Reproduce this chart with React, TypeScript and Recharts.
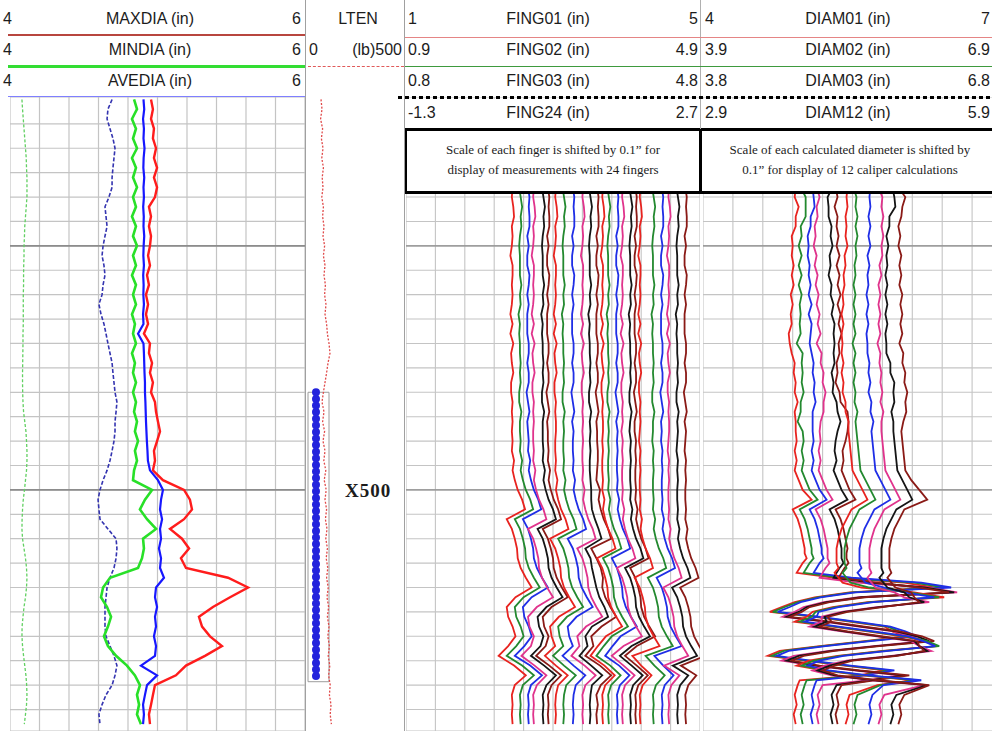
import React from "react";
import { CartesianGrid, Line, LineChart, ReferenceArea, ReferenceLine, XAxis, YAxis } from "recharts";

// depth (ft) shared by every track
const DEPTH_TOP = 419.5;
const DEPTH_BOTTOM = 549.4;
const DEPTH_TICKS = [425, 430, 435, 440, 445, 450, 455, 460, 465, 470, 475, 480, 485, 490, 495, 500, 505, 510, 515, 520, 525, 530, 535, 540, 545];
const MAJOR_DEPTHS = [450, 500];

// track 1: caliper summary, 4..6 in
const T1_TICKS = [4, 4.2, 4.4, 4.6, 4.8, 5, 5.2, 5.4, 5.6, 5.8, 6];
const T1_DEPTH = [420, 422, 424, 426, 428, 430, 432, 434, 436, 438, 440, 442, 444, 446, 448, 450, 452, 454, 456, 458, 460, 462, 464, 466, 468, 470, 472, 474, 476, 478, 480, 482, 484, 486, 488, 490, 492, 494, 496, 498, 500, 502, 504, 506, 508, 510, 512, 514, 516, 518, 520, 522, 524, 526, 528, 530, 532, 534, 536, 538, 540, 542, 544, 546, 548];
const MAXDIA = [4.956, 4.969, 4.956, 4.976, 4.969, 4.99, 4.976, 4.997, 4.976, 4.997, 4.983, 4.942, 4.956, 4.942, 4.956, 4.949, 4.936, 4.949, 4.929, 4.942, 4.922, 4.936, 4.922, 4.936, 4.908, 4.949, 4.942, 4.963, 4.949, 4.969, 4.956, 4.983, 4.99, 5.003, 5.017, 4.997, 4.976, 4.983, 4.969, 5.037, 5.18, 5.22, 5.234, 5.18, 5.085, 5.166, 5.214, 5.159, 5.193, 5.478, 5.614, 5.492, 5.376, 5.281, 5.302, 5.356, 5.437, 5.322, 5.193, 5.125, 4.983, 4.969, 4.956, 4.942, 4.949];
const MINDIA = [4.841, 4.861, 4.827, 4.854, 4.834, 4.861, 4.827, 4.854, 4.834, 4.861, 4.834, 4.854, 4.827, 4.854, 4.834, 4.861, 4.834, 4.854, 4.827, 4.854, 4.834, 4.854, 4.827, 4.847, 4.834, 4.854, 4.827, 4.847, 4.834, 4.854, 4.834, 4.854, 4.841, 4.861, 4.847, 4.868, 4.847, 4.861, 4.841, 4.834, 4.963, 4.915, 4.881, 4.929, 4.99, 4.902, 4.908, 4.895, 4.868, 4.678, 4.631, 4.617, 4.658, 4.685, 4.664, 4.637, 4.664, 4.719, 4.793, 4.847, 4.881, 4.861, 4.875, 4.861, 4.888];
const AVEDIA = [4.905, 4.91, 4.902, 4.908, 4.905, 4.912, 4.906, 4.904, 4.91, 4.905, 4.908, 4.903, 4.907, 4.905, 4.91, 4.906, 4.904, 4.908, 4.903, 4.906, 4.904, 4.908, 4.902, 4.905, 4.868, 4.905, 4.908, 4.91, 4.912, 4.915, 4.915, 4.918, 4.92, 4.922, 4.925, 4.928, 4.932, 4.935, 4.949, 5.003, 5.037, 5.024, 5.017, 5.031, 5.017, 5.024, 5.01, 5.024, 5.017, 5.044, 4.99, 4.983, 4.997, 4.983, 4.99, 4.976, 4.99, 4.983, 4.888, 4.997, 4.929, 4.915, 4.902, 4.908, 4.902];
const AUX_BLUE = [4.692, 4.664, 4.658, 4.678, 4.698, 4.712, 4.705, 4.698, 4.692, 4.692, 4.671, 4.644, 4.651, 4.658, 4.644, 4.631, 4.624, 4.637, 4.644, 4.631, 4.624, 4.603, 4.617, 4.637, 4.651, 4.664, 4.678, 4.692, 4.698, 4.705, 4.712, 4.725, 4.719, 4.712, 4.712, 4.705, 4.692, 4.678, 4.658, 4.631, 4.61, 4.597, 4.603, 4.61, 4.664, 4.719, 4.725, 4.719, 4.705, 4.678, 4.658, 4.651, 4.644, 4.644, 4.644, 4.651, 4.678, 4.705, 4.725, 4.712, 4.692, 4.651, 4.624, 4.603, 4.61];
const AUX_GREEN = [4.081, 4.085, 4.09, 4.095, 4.1, 4.105, 4.11, 4.112, 4.115, 4.115, 4.115, 4.11, 4.105, 4.1, 4.098, 4.095, 4.095, 4.093, 4.092, 4.092, 4.09, 4.09, 4.09, 4.09, 4.088, 4.088, 4.087, 4.086, 4.085, 4.085, 4.086, 4.088, 4.092, 4.1, 4.108, 4.112, 4.115, 4.115, 4.112, 4.105, 4.098, 4.09, 4.085, 4.082, 4.081, 4.085, 4.095, 4.105, 4.112, 4.115, 4.112, 4.105, 4.095, 4.088, 4.082, 4.081, 4.085, 4.092, 4.1, 4.108, 4.113, 4.115, 4.112, 4.105, 4.097];

// track 2: line tension (lb), 0..500
const LTEN = [80, 85, 78, 88, 82, 90, 84, 92, 86, 90, 84, 92, 88, 95, 90, 98, 92, 100, 95, 102, 98, 105, 100, 108, 112, 120, 125, 115, 108, 100, 92, 85, 95, 88, 98, 90, 100, 94, 104, 96, 106, 100, 108, 102, 110, 104, 112, 106, 114, 108, 116, 110, 118, 112, 120, 114, 122, 116, 124, 118, 126, 122, 130, 126, 132];
const MARKER_DEPTHS = [480, 539.3];
const MARKER_LB = 55;

// track 3: finger radii, hundredths of an inch
const F_DEPTH = [438, 440, 442, 444, 446, 448, 450, 452, 454, 456, 458, 460, 462, 464, 466, 468, 470, 472, 474, 476, 478, 480, 482, 484, 486, 488, 490, 492, 494, 496, 498, 500, 502, 504, 506, 508, 510, 512, 514, 516, 518, 520, 522, 524, 526, 528, 530, 532, 534, 536, 538, 540, 542, 544, 546, 548];

const FING01 = [245, 244, 246, 247, 244, 245, 244, 242, 245, 245, 244, 245, 244, 242, 245, 242, 246, 243, 244, 246, 243, 243, 245, 244, 245, 244, 245, 244, 247, 245, 248, 252, 258, 262, 237, 244, 248, 251, 252, 256, 263, 271, 249, 237, 239, 245, 249, 239, 226, 247, 263, 248, 244, 245, 244, 245];
const FING02 = [244, 246, 248, 246, 247, 245, 244, 245, 245, 245, 247, 245, 246, 243, 245, 244, 245, 245, 246, 245, 246, 244, 244, 247, 245, 245, 246, 245, 248, 246, 249, 253, 259, 263, 238, 245, 249, 252, 253, 257, 264, 272, 250, 238, 240, 246, 250, 240, 227, 248, 264, 249, 245, 246, 245, 246];
const FING03 = [246, 248, 247, 248, 248, 245, 247, 245, 245, 248, 247, 245, 247, 245, 245, 245, 247, 247, 245, 247, 247, 244, 246, 248, 245, 246, 247, 246, 249, 247, 250, 254, 260, 264, 239, 246, 250, 253, 254, 258, 265, 273, 251, 239, 241, 247, 251, 241, 228, 249, 265, 250, 246, 247, 246, 247];
const FING04 = [244, 243, 245, 246, 243, 244, 243, 241, 244, 244, 243, 244, 243, 241, 244, 241, 245, 242, 243, 245, 242, 242, 244, 243, 244, 243, 243, 244, 243, 246, 244, 247, 251, 257, 261, 236, 243, 247, 250, 251, 255, 262, 270, 248, 236, 238, 244, 240, 227, 245, 261, 248, 243, 244, 243, 244];
const FING05 = [245, 247, 249, 247, 248, 246, 245, 246, 246, 246, 248, 246, 247, 244, 246, 245, 246, 246, 247, 246, 247, 245, 245, 248, 246, 246, 246, 247, 246, 249, 247, 250, 254, 260, 264, 239, 246, 250, 253, 254, 258, 265, 273, 251, 239, 241, 247, 243, 230, 248, 264, 251, 246, 247, 246, 247];
const FING06 = [243, 245, 244, 245, 245, 242, 244, 242, 242, 245, 244, 242, 244, 242, 242, 242, 244, 244, 242, 244, 244, 241, 243, 245, 242, 243, 243, 244, 243, 246, 244, 247, 251, 257, 261, 236, 243, 247, 250, 251, 255, 262, 270, 248, 236, 238, 244, 240, 227, 245, 261, 248, 243, 244, 243, 244];
const FING07 = [244, 243, 245, 246, 243, 244, 243, 241, 244, 244, 243, 244, 243, 241, 244, 241, 245, 242, 243, 245, 242, 242, 244, 243, 244, 244, 243, 243, 244, 243, 246, 244, 247, 251, 257, 261, 236, 243, 247, 250, 251, 255, 262, 270, 248, 236, 238, 243, 229, 244, 260, 247, 244, 243, 244, 243];
const FING08 = [243, 245, 247, 245, 246, 244, 243, 244, 244, 244, 246, 244, 245, 242, 244, 243, 244, 244, 245, 244, 245, 243, 243, 246, 244, 245, 244, 244, 245, 244, 247, 245, 248, 252, 258, 262, 237, 244, 248, 251, 252, 256, 263, 271, 249, 237, 239, 244, 230, 245, 261, 248, 245, 244, 245, 244];
const FING09 = [247, 249, 248, 249, 249, 246, 248, 246, 246, 249, 248, 246, 248, 246, 246, 246, 248, 248, 246, 248, 248, 245, 247, 249, 246, 248, 247, 247, 248, 247, 250, 248, 251, 255, 261, 265, 240, 247, 251, 254, 255, 259, 266, 274, 252, 240, 242, 247, 233, 248, 264, 251, 248, 247, 248, 247];
const FING10 = [251, 250, 252, 253, 250, 251, 250, 248, 251, 251, 250, 251, 250, 248, 251, 248, 252, 249, 250, 252, 249, 249, 251, 250, 251, 250, 251, 250, 250, 251, 250, 253, 251, 254, 258, 264, 268, 243, 250, 254, 257, 258, 262, 269, 277, 255, 243, 246, 235, 253, 268, 254, 250, 251, 250, 251];
const FING11 = [249, 251, 253, 251, 252, 250, 249, 250, 250, 250, 252, 250, 251, 248, 250, 249, 250, 250, 251, 250, 251, 249, 249, 252, 250, 251, 250, 251, 250, 250, 251, 252, 252, 253, 257, 262, 266, 244, 251, 253, 256, 259, 263, 270, 275, 253, 244, 247, 236, 252, 267, 253, 251, 250, 251, 250];
const FING12 = [250, 252, 251, 252, 252, 249, 251, 249, 249, 252, 251, 249, 251, 249, 249, 249, 251, 251, 249, 251, 251, 248, 250, 252, 249, 250, 250, 251, 251, 250, 249, 254, 252, 255, 259, 265, 269, 242, 249, 255, 258, 257, 261, 268, 276, 256, 242, 245, 234, 254, 269, 255, 249, 251, 249, 250];
const FING13 = [248, 247, 249, 250, 247, 248, 247, 245, 248, 248, 247, 248, 247, 245, 248, 245, 249, 246, 247, 249, 246, 246, 248, 247, 248, 248, 247, 248, 247, 247, 248, 247, 250, 248, 251, 255, 261, 265, 240, 247, 251, 254, 255, 259, 266, 274, 252, 241, 231, 250, 264, 251, 247, 248, 247, 248];
const FING14 = [244, 246, 248, 246, 247, 245, 244, 245, 245, 245, 247, 245, 246, 243, 245, 244, 245, 245, 246, 245, 246, 244, 244, 247, 245, 246, 245, 246, 245, 245, 246, 245, 248, 246, 249, 253, 259, 263, 238, 245, 249, 252, 253, 257, 264, 272, 250, 239, 229, 248, 262, 249, 245, 246, 245, 246];
const FING15 = [247, 249, 248, 249, 249, 246, 248, 246, 246, 249, 248, 246, 248, 246, 246, 246, 248, 248, 246, 248, 248, 245, 247, 249, 246, 248, 247, 248, 247, 247, 248, 247, 250, 248, 251, 255, 261, 265, 240, 247, 251, 254, 255, 259, 266, 274, 252, 241, 231, 250, 264, 251, 247, 248, 247, 248];
const FING16 = [245, 244, 246, 247, 244, 245, 244, 242, 245, 245, 244, 245, 244, 242, 245, 242, 246, 243, 244, 246, 243, 243, 245, 244, 245, 243, 245, 244, 245, 244, 244, 245, 244, 247, 245, 248, 252, 258, 262, 237, 244, 248, 251, 252, 256, 263, 271, 246, 230, 246, 261, 248, 244, 245, 244, 245];
const FING17 = [244, 246, 248, 246, 247, 245, 244, 245, 245, 245, 247, 245, 246, 243, 245, 244, 245, 245, 246, 245, 246, 244, 244, 247, 245, 244, 246, 245, 246, 245, 245, 246, 245, 248, 246, 249, 253, 259, 263, 238, 245, 249, 252, 253, 257, 264, 272, 247, 231, 247, 262, 249, 245, 246, 245, 246];
const FING18 = [242, 244, 243, 244, 244, 241, 243, 241, 241, 244, 243, 241, 243, 241, 241, 241, 243, 243, 241, 243, 243, 240, 242, 244, 241, 241, 243, 242, 243, 242, 242, 243, 242, 245, 243, 246, 250, 256, 260, 235, 242, 246, 249, 250, 254, 261, 269, 244, 228, 244, 259, 246, 242, 243, 242, 243];
const FING19 = [239, 238, 240, 241, 238, 239, 238, 236, 239, 239, 238, 239, 238, 236, 239, 236, 240, 237, 238, 240, 237, 237, 239, 238, 239, 238, 237, 239, 238, 239, 238, 238, 239, 238, 241, 239, 242, 246, 252, 256, 231, 238, 242, 245, 246, 250, 257, 265, 228, 240, 254, 242, 238, 239, 238, 239];
const FING20 = [245, 247, 249, 247, 248, 246, 245, 246, 246, 246, 248, 246, 247, 244, 246, 245, 246, 246, 247, 246, 247, 245, 245, 248, 246, 246, 245, 247, 246, 247, 246, 246, 247, 246, 249, 247, 250, 254, 260, 264, 239, 246, 250, 253, 254, 258, 265, 273, 236, 248, 262, 250, 246, 247, 246, 247];
const FING21 = [248, 250, 249, 250, 250, 247, 249, 247, 247, 250, 249, 247, 249, 247, 247, 247, 249, 249, 247, 249, 249, 246, 248, 250, 247, 248, 247, 249, 248, 249, 248, 248, 249, 248, 251, 249, 252, 256, 262, 266, 241, 248, 252, 255, 256, 260, 267, 275, 238, 250, 264, 252, 248, 249, 248, 249];
const FING22 = [248, 247, 249, 250, 247, 248, 247, 245, 248, 248, 247, 248, 247, 245, 248, 245, 249, 246, 247, 249, 246, 246, 248, 247, 248, 248, 247, 246, 248, 247, 248, 247, 247, 248, 247, 250, 248, 251, 255, 261, 265, 240, 247, 251, 254, 255, 259, 266, 274, 241, 262, 251, 247, 248, 247, 248];
const FING23 = [248, 250, 252, 250, 251, 249, 248, 249, 249, 249, 251, 249, 250, 247, 249, 248, 249, 249, 250, 249, 250, 248, 248, 251, 249, 250, 249, 248, 250, 249, 250, 249, 249, 250, 249, 252, 250, 253, 257, 263, 267, 242, 249, 253, 256, 257, 261, 268, 276, 243, 264, 253, 249, 250, 249, 250];
const FING24 = [250, 252, 251, 252, 252, 249, 251, 249, 249, 252, 251, 249, 251, 249, 249, 249, 251, 251, 249, 251, 251, 248, 250, 252, 249, 251, 250, 249, 251, 250, 251, 250, 250, 251, 250, 253, 251, 254, 258, 264, 268, 243, 250, 254, 257, 258, 262, 269, 277, 244, 265, 254, 250, 251, 250, 251];
const FINGERS = [FING01, FING02, FING03, FING04, FING05, FING06, FING07, FING08, FING09, FING10, FING11, FING12, FING13, FING14, FING15, FING16, FING17, FING18, FING19, FING20, FING21, FING22, FING23, FING24];
const FING_SCALE_LEFT = [1, 0.9, 0.8, 0.7, 0.6, 0.5, 0.4, 0.3, 0.2, 0.1, 0, -0.1, -0.2, -0.3, -0.4, -0.5, -0.6, -0.7, -0.8, -0.9, -1, -1.1, -1.2, -1.3];
const FING_SPAN = 4;
const FING_TICKS = [1, 1.4, 1.8, 2.2, 2.6, 3, 3.4, 3.8, 4.2, 4.6, 5];

// track 4: calculated diameters, hundredths of an inch (1 ft steps through the swings)
const D_DEPTH = [438, 440, 442, 444, 446, 448, 450, 452, 454, 456, 458, 460, 462, 464, 466, 468, 470, 472, 474, 476, 478, 480, 482, 484, 486, 488, 490, 492, 494, 496, 498, 500, 502, 504, 506, 508, 510, 512, 513, 514, 515, 516, 517, 518, 519, 520, 521, 522, 523, 524, 525, 526, 527, 528, 529, 530, 531, 532, 533, 534, 535, 536, 537, 538, 539, 540, 542, 544, 546, 548];
const DIAM01 = [493, 492, 496, 493, 493, 489, 490, 489, 491, 489, 491, 488, 490, 488, 489, 486, 487, 489, 492, 491, 493, 492, 495, 492, 493, 493, 494, 492, 494, 492, 496, 500, 509, 490, 495, 498, 500, 502, 502, 504, 500, 497, 494, 532, 602, 632, 547, 512, 492, 479, 467, 512, 547, 582, 590, 602, 562, 517, 477, 465, 502, 542, 582, 557, 497, 495, 492, 494, 491, 493];
const DIAM02 = [488, 493, 493, 493, 488, 489, 486, 489, 486, 489, 486, 489, 487, 488, 487, 488, 484, 490, 489, 490, 489, 491, 488, 488, 485, 490, 491, 489, 491, 489, 493, 497, 505, 487, 492, 495, 497, 499, 499, 501, 497, 494, 491, 529, 602, 632, 540, 505, 485, 472, 460, 505, 540, 575, 587, 599, 555, 510, 471, 459, 495, 535, 577, 550, 494, 492, 489, 491, 488, 490];
const DIAM03 = [490, 491, 492, 488, 488, 485, 486, 485, 487, 486, 488, 486, 489, 486, 489, 488, 487, 489, 491, 490, 492, 491, 493, 490, 490, 490, 491, 489, 491, 489, 493, 497, 504, 487, 492, 495, 497, 499, 499, 501, 497, 494, 491, 529, 599, 629, 533, 498, 478, 467, 455, 498, 533, 568, 583, 595, 548, 503, 466, 454, 488, 528, 572, 543, 494, 492, 489, 491, 488, 490];
const DIAM04 = [484, 487, 484, 485, 482, 483, 481, 484, 482, 485, 483, 486, 484, 487, 485, 488, 484, 489, 488, 491, 490, 493, 491, 491, 488, 487, 488, 486, 488, 486, 490, 494, 500, 483, 488, 491, 493, 495, 495, 495, 497, 493, 490, 487, 525, 595, 625, 526, 491, 471, 462, 450, 491, 526, 561, 580, 592, 541, 496, 461, 449, 481, 521, 567, 536, 490, 485, 487, 484, 486];
const DIAM05 = [490, 485, 486, 486, 489, 488, 490, 487, 488, 486, 489, 488, 491, 489, 492, 491, 492, 491, 492, 489, 491, 490, 494, 495, 498, 495, 493, 492, 494, 491, 495, 499, 505, 487, 492, 495, 497, 499, 499, 499, 501, 497, 494, 491, 529, 582, 612, 519, 484, 464, 456, 444, 484, 519, 554, 575, 587, 534, 489, 456, 444, 474, 514, 562, 529, 494, 489, 491, 488, 490];
const DIAM06 = [483, 485, 482, 485, 484, 486, 484, 487, 484, 487, 485, 488, 485, 488, 486, 489, 486, 487, 484, 485, 483, 487, 488, 495, 496, 495, 493, 490, 491, 489, 493, 497, 503, 483, 488, 491, 493, 495, 494, 494, 496, 492, 489, 486, 524, 567, 597, 512, 477, 457, 449, 437, 477, 512, 547, 570, 582, 527, 482, 451, 439, 467, 507, 557, 522, 489, 484, 486, 483, 485];
const DIAM07 = [485, 484, 485, 483, 484, 483, 485, 482, 483, 481, 482, 480, 481, 479, 481, 479, 480, 479, 481, 479, 481, 480, 483, 483, 486, 486, 487, 488, 489, 490, 495, 500, 505, 489, 484, 479, 476, 474, 474, 474, 474, 476, 472, 476, 480, 499, 552, 582, 505, 470, 450, 444, 432, 470, 505, 540, 563, 575, 520, 475, 446, 434, 460, 500, 552, 515, 487, 484, 486, 483];
const DIAM08 = [481, 484, 483, 485, 483, 485, 483, 484, 482, 483, 481, 483, 481, 483, 481, 483, 480, 483, 481, 483, 481, 483, 482, 485, 483, 484, 485, 486, 487, 488, 493, 498, 503, 487, 482, 477, 474, 472, 472, 472, 472, 474, 470, 474, 478, 497, 537, 567, 498, 463, 443, 439, 427, 463, 498, 533, 555, 567, 513, 468, 441, 429, 453, 493, 545, 508, 485, 482, 484, 481];
const DIAM09 = [488, 487, 488, 486, 488, 486, 488, 485, 487, 485, 486, 484, 486, 484, 486, 484, 485, 485, 487, 486, 488, 486, 489, 488, 491, 489, 490, 491, 492, 493, 498, 503, 508, 492, 487, 482, 479, 477, 477, 477, 477, 479, 475, 479, 483, 502, 522, 552, 491, 456, 436, 434, 422, 456, 491, 526, 541, 553, 506, 461, 437, 425, 446, 486, 539, 501, 490, 487, 489, 486];
const DIAM10 = [486, 490, 489, 491, 489, 491, 489, 490, 487, 489, 486, 488, 486, 488, 486, 488, 485, 488, 487, 489, 488, 490, 488, 491, 489, 489, 490, 491, 492, 493, 498, 503, 508, 492, 487, 482, 479, 477, 477, 477, 477, 477, 479, 475, 479, 483, 502, 512, 537, 484, 449, 429, 429, 417, 449, 484, 519, 527, 539, 499, 454, 432, 420, 439, 479, 532, 492, 487, 489, 486];
const DIAM11 = [490, 492, 493, 487, 487, 484, 486, 484, 485, 483, 485, 483, 485, 483, 485, 483, 484, 484, 488, 488, 492, 491, 492, 489, 491, 491, 492, 493, 494, 495, 500, 505, 510, 494, 489, 484, 481, 479, 479, 479, 479, 479, 481, 477, 481, 485, 502, 507, 522, 477, 442, 422, 424, 412, 442, 477, 512, 517, 525, 492, 447, 427, 415, 432, 472, 525, 494, 489, 491, 488];
const DIAM12 = [486, 493, 490, 489, 486, 488, 486, 489, 487, 489, 487, 490, 488, 490, 488, 490, 487, 491, 490, 493, 492, 495, 493, 494, 491, 489, 490, 491, 492, 493, 499, 507, 515, 492, 487, 482, 479, 477, 477, 477, 477, 477, 479, 475, 479, 483, 499, 502, 507, 470, 435, 415, 419, 407, 435, 470, 505, 507, 512, 485, 440, 422, 410, 425, 465, 517, 492, 487, 489, 486];
const DIAMS = [DIAM01, DIAM02, DIAM03, DIAM04, DIAM05, DIAM06, DIAM07, DIAM08, DIAM09, DIAM10, DIAM11, DIAM12];
const DIAM_SCALE_LEFT = [4, 3.9, 3.8, 3.7, 3.6, 3.5, 3.4, 3.3, 3.2, 3.1, 3.0, 2.9];
const DIAM_SPAN = 3;
const DIAM_TICKS = [4, 4.3, 4.6, 4.9, 5.2, 5.5, 5.8, 6.1, 6.4, 6.7, 7];

const CURVE_COLORS = ["#e8231f", "#23892f", "#1f2ee6", "#e0338c", "#151515", "#8a1a16"];

const SANS = '"Liberation Sans", Arial, sans-serif';
const SERIF = '"Liberation Serif", "Times New Roman", serif';
const PLOT_TOP = 97;
const PLOT_H = 634;
const GRID = "#c4c4c4";
const GRID_MAJOR = "#8c8c8c";

const t1Rows = T1_DEPTH.map((depth, i) => ({
  depth,
  maxdia: MAXDIA[i],
  mindia: MINDIA[i],
  avedia: AVEDIA[i],
  auxBlue: AUX_BLUE[i],
  auxGreen: AUX_GREEN[i],
  lten: LTEN[i],
}));

function buildRows(depths: number[], series: number[][], prefix: string) {
  return depths.map((depth, r) => {
    const row: Record<string, number> = { depth };
    series.forEach((a, i) => (row[`${prefix}${i}`] = a[r] / 100));
    return row;
  });
}
const fingRows = buildRows(F_DEPTH, FINGERS, "f");
const diamRows = buildRows(D_DEPTH, DIAMS, "d");

const markerRows = MARKER_DEPTHS.map((depth) => ({ depth, lb: MARKER_LB }));

// in a vertical layout the number y axis already runs top -> bottom
const depthAxis = (
  <YAxis type="number" dataKey="depth" domain={[DEPTH_TOP, DEPTH_BOTTOM]} hide ticks={DEPTH_TICKS} interval={0} allowDataOverflow />
);

function Pos({ left, top, children }: { left: number; top: number; children: React.ReactNode }) {
  return <div style={{ position: "absolute", left, top }}>{children}</div>;
}

function Txt({ x, y, align = "left", size = 16, font = SANS, weight = 400, spacing = 0, children }: any) {
  const style: React.CSSProperties = {
    position: "absolute",
    top: y - 11,
    lineHeight: "22px",
    fontSize: size,
    fontFamily: font,
    fontWeight: weight,
    letterSpacing: spacing,
    color: "#1c1c1c",
    whiteSpace: "nowrap",
  };
  if (align === "left") style.left = x;
  else if (align === "right") Object.assign(style, { left: x - 300, width: 300, textAlign: "right" });
  else Object.assign(style, { left: x - 160, width: 320, textAlign: "center" });
  return <div style={style}>{children}</div>;
}

function Rule({ left, top, width, height, bg, style }: any) {
  return <div style={{ position: "absolute", left, top, width, height, background: bg, ...style }} />;
}

function CaliperTrack() {
  return (
    <LineChart layout="vertical" width={295} height={PLOT_H} data={t1Rows} margin={{ top: 0, right: 0, bottom: 0, left: 0 }}>
      <XAxis type="number" domain={[4, 6]} ticks={T1_TICKS} interval={0} hide allowDataOverflow />
      {depthAxis}
      <CartesianGrid stroke={GRID} strokeWidth={1.2} />
      {MAJOR_DEPTHS.map((d) => (
        <ReferenceLine key={d} y={d} stroke={GRID_MAJOR} strokeWidth={1.6} />
      ))}
      <Line dataKey="auxGreen" stroke="#62d062" strokeWidth={1.3} strokeDasharray="3 2" dot={false} isAnimationActive={false} />
      <Line dataKey="auxBlue" stroke="#3434b0" strokeWidth={1.6} strokeDasharray="4 2" dot={false} isAnimationActive={false} />
      <Line dataKey="mindia" stroke="#28e028" strokeWidth={2.6} dot={false} isAnimationActive={false} />
      <Line dataKey="avedia" stroke="#1717ff" strokeWidth={2.2} dot={false} isAnimationActive={false} />
      <Line dataKey="maxdia" stroke="#ff1c1c" strokeWidth={2.4} dot={false} isAnimationActive={false} />
    </LineChart>
  );
}

function TensionTrack() {
  return (
    <LineChart layout="vertical" width={100} height={PLOT_H} data={t1Rows} margin={{ top: 0, right: 0, bottom: 0, left: 0 }}>
      <XAxis type="number" domain={[0, 500]} hide allowDataOverflow />
      {depthAxis}
      <ReferenceArea x1={15} x2={120} y1={MARKER_DEPTHS[0]} y2={MARKER_DEPTHS[1]} fill="none" stroke="#9c9c9c" strokeWidth={1} />
      <Line data={markerRows} dataKey="lb" stroke="#2323dc" strokeWidth={8} strokeDasharray="0 6.6" strokeLinecap="round" dot={false} isAnimationActive={false} />
      <Line dataKey="lten" stroke="#e04a4a" strokeWidth={1.3} strokeDasharray="2 1.6" dot={false} isAnimationActive={false} />
    </LineChart>
  );
}

function MultiTrack({ rows, prefix, lefts, span, ticks, width }: any) {
  return (
    <LineChart layout="vertical" width={width} height={PLOT_H} data={rows} margin={{ top: 0, right: 0, bottom: 0, left: 0 }}>
      {lefts.map((l: number, i: number) => (
        <XAxis key={i} xAxisId={`${prefix}${i}`} type="number" domain={[l, l + span]} ticks={i === 0 ? ticks : undefined} interval={0} hide allowDataOverflow />
      ))}
      {depthAxis}
      <CartesianGrid stroke={GRID} strokeWidth={1.1} xAxisId={`${prefix}0`} />
      {MAJOR_DEPTHS.map((d) => (
        <ReferenceLine key={d} y={d} xAxisId={`${prefix}0`} stroke={GRID_MAJOR} strokeWidth={1.4} />
      ))}
      {lefts.map((_: number, i: number) => (
        <Line
          key={i}
          xAxisId={`${prefix}${i}`}
          dataKey={`${prefix}${i}`}
          stroke={CURVE_COLORS[i % CURVE_COLORS.length]}
          strokeWidth={1.8}
          dot={false}
          isAnimationActive={false}
        />
      ))}
    </LineChart>
  );
}

const T1_HEAD = [
  ["4", "MAXDIA (in)", "6"],
  ["4", "MINDIA (in)", "6"],
  ["4", "AVEDIA (in)", "6"],
];
const FING_HEAD = [
  ["1", "FING01 (in)", "5"],
  ["0.9", "FING02 (in)", "4.9"],
  ["0.8", "FING03 (in)", "4.8"],
  ["-1.3", "FING24 (in)", "2.7"],
];
const DIAM_HEAD = [
  ["4", "DIAM01 (in)", "7"],
  ["3.9", "DIAM02 (in)", "6.9"],
  ["3.8", "DIAM03 (in)", "6.8"],
  ["2.9", "DIAM12 (in)", "5.9"],
];
const ROW_MID = [19, 50, 81, 113];
const NOTE_FING = ["Scale of each finger is shifted by 0.1” for", "display of measurements with 24 fingers"];
const NOTE_DIAM = ["Scale of each calculated diameter is shifted by", "0.1” for display of 12 caliper calculations"];

function NoteBox({ left, width, lines }: { left: number; width: number; lines: string[] }) {
  return (
    <div
      style={{
        position: "absolute",
        left,
        top: 128,
        width,
        height: 66,
        boxSizing: "border-box",
        border: "3px solid #000",
        background: "#fff",
        fontFamily: SERIF,
        fontSize: 13,
        lineHeight: "20px",
        textAlign: "center",
        paddingTop: 9,
        color: "#1c1c1c",
      }}
    >
      {lines.map((l) => (
        <div key={l}>{l}</div>
      ))}
    </div>
  );
}

export default function App() {
  return (
    <div style={{ position: "absolute", left: 0, top: 0, width: 992, height: 731, overflow: "hidden", background: "#fff" }}>
      <Pos left={10} top={PLOT_TOP}>
        <CaliperTrack />
      </Pos>
      <Pos left={305} top={PLOT_TOP}>
        <TensionTrack />
      </Pos>
      <Pos left={406} top={PLOT_TOP}>
        <MultiTrack rows={fingRows} prefix="f" lefts={FING_SCALE_LEFT} span={FING_SPAN} ticks={FING_TICKS} width={294} />
      </Pos>
      <Pos left={703} top={PLOT_TOP}>
        <MultiTrack rows={diamRows} prefix="d" lefts={DIAM_SCALE_LEFT} span={DIAM_SPAN} ticks={DIAM_TICKS} width={299} />
      </Pos>

      {/* header of tracks 3 and 4, masks the grid above the curves */}
      <Rule left={405} top={99} width={600} height={30} bg="#fff" />
      <NoteBox left={404} width={298} lines={NOTE_FING} />
      <NoteBox left={699} width={302} lines={NOTE_DIAM} />

      {/* separators and header rules */}
      <Rule left={305} top={0} width={1} height={731} bg="#a0a0a0" />
      <Rule left={404} top={0} width={1} height={731} bg="#a0a0a0" />
      <Rule left={700} top={0} width={1} height={129} bg="#b0b0b0" />
      <Rule left={8} top={34} width={297} height={2} bg="#b8463f" />
      <Rule left={8} top={65} width={297} height={3} bg="#33dd33" />
      <Rule left={8} top={96} width={297} height={1} bg="#7f7fff" />
      <Rule left={308} top={66} width={96} height={0} style={{ borderTop: "1.5px dashed #e05a5a" }} />
      <Rule left={405} top={37} width={600} height={1} bg="#e58585" />
      <Rule left={405} top={66} width={600} height={1} bg="#3e9a3e" />
      <Rule left={398} top={96} width={600} height={3} style={{ backgroundImage: "repeating-linear-gradient(90deg, #000 0 4px, transparent 4px 7px)" }} />

      {T1_HEAD.map((r, i) => (
        <React.Fragment key={r[1]}>
          <Txt x={3} y={ROW_MID[i]}>{r[0]}</Txt>
          <Txt x={150} y={ROW_MID[i]} align="center">{r[1]}</Txt>
          <Txt x={301} y={ROW_MID[i]} align="right">{r[2]}</Txt>
        </React.Fragment>
      ))}
      <Txt x={358} y={ROW_MID[0]} align="center">LTEN</Txt>
      <Txt x={309} y={ROW_MID[1]}>0</Txt>
      <Txt x={402} y={ROW_MID[1]} align="right">(lb)500</Txt>

      {FING_HEAD.map((r, i) => (
        <React.Fragment key={r[1]}>
          <Txt x={408} y={ROW_MID[i]}>{r[0]}</Txt>
          <Txt x={548} y={ROW_MID[i]} align="center">{r[1]}</Txt>
          <Txt x={698} y={ROW_MID[i]} align="right">{r[2]}</Txt>
        </React.Fragment>
      ))}
      {DIAM_HEAD.map((r, i) => (
        <React.Fragment key={r[1]}>
          <Txt x={705} y={ROW_MID[i]}>{r[0]}</Txt>
          <Txt x={848} y={ROW_MID[i]} align="center">{r[1]}</Txt>
          <Txt x={990} y={ROW_MID[i]} align="right">{r[2]}</Txt>
        </React.Fragment>
      ))}

      <Txt x={345} y={491} font={SERIF} size={19} weight={700} spacing={1}>X500</Txt>
    </div>
  );
}
